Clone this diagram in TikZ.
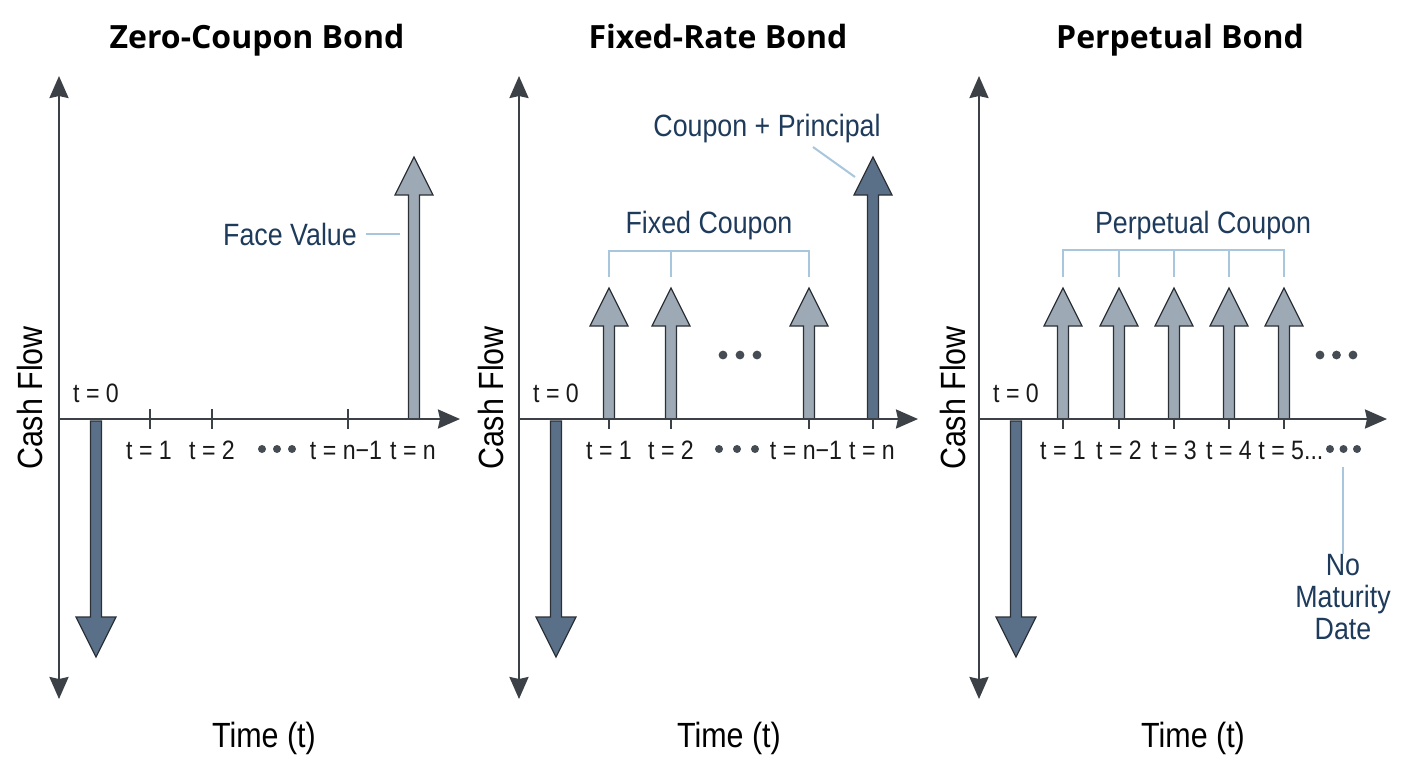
\documentclass[tikz,border=0pt]{standalone}
\usepackage{fontspec}
\setmainfont{Liberation Sans}[FakeStretch=0.87]
\newfontfamily\titlefont{Open Sans}
\usetikzlibrary{arrows.meta}

\definecolor{axisgray}{HTML}{3B4147}
\definecolor{flowdark}{HTML}{5A6F88}
\definecolor{flowlight}{HTML}{9DA9B5}
\definecolor{flowline}{HTML}{2C3137}
\definecolor{notetext}{HTML}{1E3B5C}
\definecolor{leaderblue}{HTML}{A8C6DC}
\definecolor{dotgray}{HTML}{454C54}

\tikzset{
  axisline/.style={draw=axisgray, line width=1.2pt},
  tickmark/.style={draw=axisgray, line width=1pt},
  bondtitle/.style={font=\titlefont\bfseries\fontsize{16}{19}\selectfont, text=black, anchor=base, inner sep=0pt},
  ticklabel/.style={font=\fontsize{13.3}{16}\selectfont, text=black!90, anchor=base, inner sep=0pt},
  notelabel/.style={font=\fontsize{15.4}{16}\selectfont, text=notetext, anchor=base, inner sep=0pt},
  axislabel/.style={font=\fontsize{17.5}{20}\selectfont, text=black, inner sep=0pt},
  leaderline/.style={draw=leaderblue, line width=1pt},
  flowedge/.style={draw=flowline, line width=0.6pt},
}

% fat cash-flow arrows: x, tip, fill
\newcommand{\flowup}[3]{%
  \filldraw[flowedge, fill=#3] ({#1-5.5},419) -- ({#1-5.5},{#2+38}) -- ({#1-19},{#2+38})
    -- (#1,#2) -- ({#1+19},{#2+38}) -- ({#1+5.5},{#2+38}) -- ({#1+5.5},419) -- cycle;}
\newcommand{\flowdown}[3]{%
  \filldraw[flowedge, fill=#3] ({#1-5.5},421) -- ({#1-5.5},{#2-40}) -- ({#1-20},{#2-40})
    -- (#1,#2) -- ({#1+20},{#2-40}) -- ({#1+5.5},{#2-40}) -- ({#1+5.5},421) -- cycle;}

\begin{document}
\begin{tikzpicture}[x=0.5pt,y=-0.5pt,>={Stealth[length=11pt,width=9.5pt,inset=1pt]}]
  \fill[white] (0,0) rectangle (1408,768);
  \useasboundingbox (0,0) rectangle (1408,768);

  % zero-coupon bond
  \flowdown{96}{657}{flowdark}
  \flowup{414}{157}{flowlight}
  \draw[axisline,<->] (59,699) -- (59,76);
  \draw[axisline,->] (59,419) -- (460,419);
  \foreach \x in {150,212,348} \draw[tickmark] (\x,409) -- (\x,429);

  \node[bondtitle] (zctitle) at (257,48) {Zero-Coupon Bond};
  \node[axislabel,rotate=90] (zcflow) at (30,398) {Cash Flow};
  \node[axislabel,anchor=base] (zctime) at (264,747) {Time (t)};
  \node[ticklabel] (zct0) at (96,402) {t = 0};
  \node[ticklabel] (zct1) at (149,459) {t = 1};
  \node[ticklabel] (zct2) at (212,459) {t = 2};
  \node[ticklabel] (zctm) at (346,459) {t = n−1};
  \node[ticklabel] (zctn) at (413,459) {t = n};
  \foreach \d in {0,1,2} \fill[dotgray] ({262+15*\d},449) circle[radius=2pt];
  \node[notelabel] (face) at (290,245) {Face Value};
  \coordinate (facetip) at (400,234);
  \draw[leaderline] (face.east |- facetip) ++(9,0) -- (facetip);

  % fixed-rate bond
  \flowdown{556}{657}{flowdark}
  \foreach \x in {609,671,809} \flowup{\x}{288}{flowlight};
  \flowup{873}{157}{flowdark}
  \draw[axisline,<->] (519,699) -- (519,76);
  \draw[axisline,->] (519,419) -- (918,419);
  \foreach \x in {609,671,809,873} \draw[tickmark] (\x,419) -- (\x,429);

  \node[bondtitle] (frtitle) at (718,48) {Fixed-Rate Bond};
  \node[axislabel,rotate=90] (frflow) at (491,398) {Cash Flow};
  \node[axislabel,anchor=base] (frtime) at (729,747) {Time (t)};
  \node[ticklabel] (frt0) at (556,402) {t = 0};
  \node[ticklabel] (frt1) at (609,459) {t = 1};
  \node[ticklabel] (frt2) at (671,459) {t = 2};
  \node[ticklabel] (frtm) at (806,459) {t = n−1};
  \node[ticklabel] (frtn) at (872,459) {t = n};
  \foreach \d in {0,1,2} \fill[dotgray] ({719+18*\d},449) circle[radius=2pt];
  \foreach \d in {0,1,2} \fill[dotgray] ({723+17*\d},355) circle[radius=2.2pt];
  \draw[leaderline] (609,277) -- (609,251) -- (809,251) -- (809,277);
  \draw[leaderline] (671,251) -- (671,277);
  \node[notelabel] (fixed) at (709,233) {Fixed Coupon};
  \node[notelabel] (princ) at (767,136) {Coupon + Principal};
  \coordinate (princtip) at (855,177);
  \draw[leaderline] (813,147) -- (princtip);

  % perpetual bond
  \flowdown{1016}{657}{flowdark}
  \foreach \x in {1063,1119,1174,1229,1284} \flowup{\x}{288}{flowlight};
  \draw[axisline,<->] (979,699) -- (979,76);
  \draw[axisline,->] (979,419) -- (1387,419);
  \foreach \x in {1063,1119,1174,1229,1284} \draw[tickmark] (\x,419) -- (\x,429);

  \node[bondtitle] (pptitle) at (1180,48) {Perpetual Bond};
  \node[axislabel,rotate=90] (ppflow) at (953,398) {Cash Flow};
  \node[axislabel,anchor=base] (pptime) at (1193,747) {Time (t)};
  \node[ticklabel] (ppt0) at (1016,402) {t = 0};
  \foreach \x [count=\i] in {1063,1119,1174,1229}
    \node[ticklabel] (ppt\i) at (\x,459) {t = \i};
  \node[ticklabel,anchor=base west] (ppt5) at (1258,459) {t = 5...};
  \foreach \d in {0,1,2} \fill[dotgray] ({1330+13.5*\d},449) circle[radius=2pt];
  \foreach \d in {0,1,2} \fill[dotgray] ({1320+16.5*\d},355) circle[radius=2.2pt];
  \draw[leaderline] (1063,277) -- (1063,250) -- (1284,250) -- (1284,277);
  \foreach \x in {1119,1174,1229} \draw[leaderline] (\x,250) -- (\x,277);
  \node[notelabel] (perp) at (1203,233) {Perpetual Coupon};
  \node[notelabel,anchor=north,align=center] (nomat) at (1343,554) {No\\Maturity\\Date};
  \draw[leaderline] (1343,467) -- (nomat.north);
\end{tikzpicture}
\end{document}
